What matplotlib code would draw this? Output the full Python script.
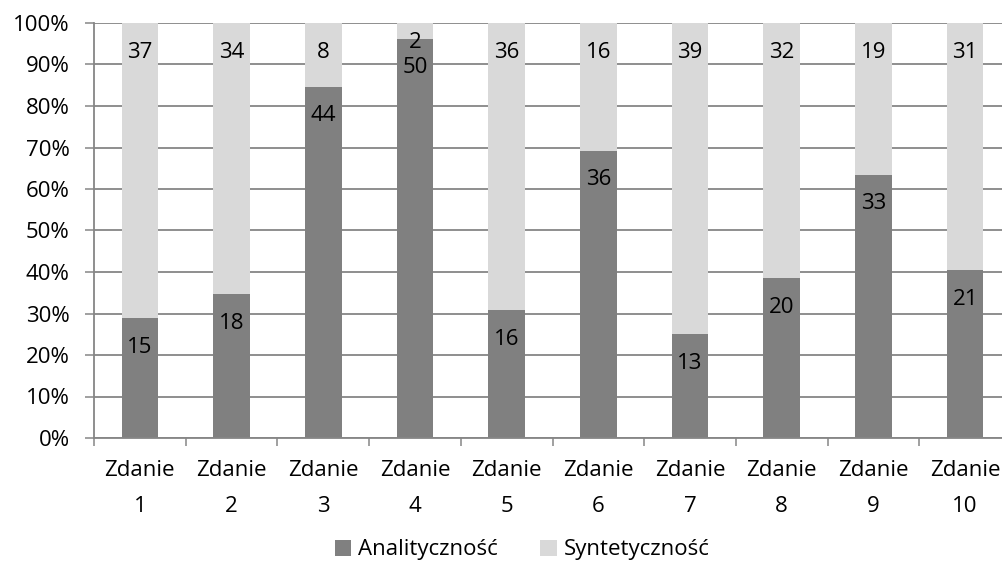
import matplotlib
matplotlib.use("Agg")
import matplotlib.pyplot as plt
import numpy as np
from matplotlib.patches import Patch

categories = ["Zdanie\n1", "Zdanie\n2", "Zdanie\n3", "Zdanie\n4", "Zdanie\n5",
              "Zdanie\n6", "Zdanie\n7", "Zdanie\n8", "Zdanie\n9", "Zdanie\n10"]
analitycznosc = [15, 18, 44, 50, 16, 36, 13, 20, 33, 21]
syntetycznosc = [37, 34, 8, 2, 36, 16, 39, 32, 19, 31]
series_names = ["Analityczność", "Syntetyczność"]
yticklabels = ["0%", "10%", "20%", "30%", "40%", "50%", "60%", "70%", "80%", "90%", "100%"]

DARK = "#808080"
LIGHT = "#d9d9d9"
GRID = "#868686"
FONT = ["Open Sans", "DejaVu Sans"]
FS = 16

plt.rcParams['font.family'] = FONT

W, H = 1003, 572
fig = plt.figure(figsize=(W / 100, H / 100), dpi=100)
left, right, top, bottom = 94, 1011, 23, 438
ax = fig.add_axes([left / W, 1 - bottom / H, (right - left) / W, (bottom - top) / H])

a = np.array(analitycznosc, float)
s = np.array(syntetycznosc, float)
tot = a + s
pa = a / tot * 100
ps = s / tot * 100
x = np.arange(len(categories))

ax.set_axisbelow(True)
ax.bar(x, pa, width=0.4, color=DARK, zorder=2)
ax.bar(x, ps, width=0.4, bottom=pa, color=LIGHT, zorder=2)

ax.set_xlim(-0.5, len(categories) - 0.5)
ax.set_ylim(0, 100)
ax.set_yticks(np.arange(0, 101, 10))
ax.set_yticklabels(yticklabels, fontsize=FS)
ax.yaxis.grid(True, color=GRID, linewidth=1.3)
ax.tick_params(axis='y', length=6.5, width=1.1, color=GRID, pad=11, labelcolor="black")

ax.set_xticks(np.arange(-0.5, len(categories), 1.0))
ax.set_xticklabels([])
ax.tick_params(axis='x', length=5.5, width=1.1, color=GRID)

for sp in ["top", "right"]:
    ax.spines[sp].set_visible(False)
for sp in ["left", "bottom"]:
    ax.spines[sp].set_color(GRID)
    ax.spines[sp].set_linewidth(1.3)

# category labels
trans = matplotlib.transforms.blended_transform_factory(ax.transData, fig.transFigure)
for xi, lab in zip(x, categories):
    l1, l2 = lab.split("\n")
    ax.text(xi, 1 - 471 / H, l1, transform=trans, ha="center", va="center", fontsize=FS)
    ax.text(xi, 1 - 506 / H, l2, transform=trans, ha="center", va="center", fontsize=FS)

# data labels (inside end)
px_per_pct = (bottom - top) / 100.0
for xi, vals, tops, hts in [(x, a, pa, pa), (x, s, pa + ps, ps)]:
    for xx, v, tp, ht in zip(xi, vals, tops, hts):
        off = min(29, ht * px_per_pct / 2 + 12)
        ax.annotate(f"{int(v)}", (xx, tp), xytext=(0, -off * 0.72), textcoords="offset points",
                    ha="center", va="center", fontsize=FS, zorder=3)

handles = [Patch(facecolor=DARK, edgecolor="none"), Patch(facecolor=LIGHT, edgecolor="none")]
fig.legend(handles, series_names, loc="center", bbox_to_anchor=(522 / W, 1 - 550 / H),
           ncol=2, frameon=False, fontsize=FS, handlelength=0.75, handleheight=0.75,
           handletextpad=0.3, columnspacing=1.9)

fig.savefig("out.png", dpi=100)
